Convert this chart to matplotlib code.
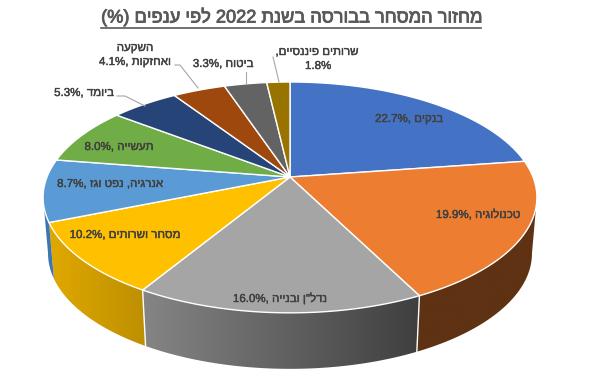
import re
import numpy as np
import matplotlib
matplotlib.use('Agg')
import matplotlib.pyplot as plt
import matplotlib.patheffects as pe
from matplotlib.colors import LinearSegmentedColormap
from matplotlib.patches import Polygon

plt.rcParams['font.family'] = ['Liberation Sans', 'DejaVu Sans']

title = 'מחזור המסחר בבורסה בשנת 2022 לפי ענפים (%)'
sectors = ['בנקים', 'טכנולוגיה', 'נדל"ן ובנייה', 'מסחר ושרותים', 'אנרגיה, נפט וגז',
           'תעשייה', 'ביומד', 'השקעה ואחזקות', 'ביטוח', 'שרותים פיננסיים']
values = [22.7, 19.9, 16.0, 10.2, 8.7, 8.0, 5.3, 4.1, 3.3, 1.8]
colors = ['#4472C4', '#ED7D31', '#A5A5A5', '#FFC000', '#5B9BD5',
          '#70AD47', '#264478', '#9E480E', '#636363', '#997300']
wall_colors = [None, ('#5E3213', '#5E3213'), ('#858585', '#3F3F3F'), ('#E0A800', '#BD8F00'),
               ('#3D76B0', '#3D76B0'), None, None, None, None, None]

# projection of the tilted disc, in pixels
APEX_X, APEX_Y = 290, 177
A, B, K = 243, 111.8, 0.177
DEPTH, SHRINK = 56, 0.98
TEXT_COLOR = '#404040'


def visual(s):
    # matplotlib has no bidi, so lay the logical string out right to left
    s = s[::-1].translate(str.maketrans('()', ')('))
    return re.sub(r'[0-9.%]*[0-9][0-9.%]*', lambda m: m.group(0)[::-1], s)


def top(deg):
    t = np.radians(deg)
    s = 1 / (1 + K * np.cos(t))
    return APEX_X + A * np.sin(t) * s, APEX_Y - B * np.cos(t) * s


def bottom(deg):
    x, y = top(deg)
    return APEX_X + (x - APEX_X) * SHRINK, y + DEPTH


def label(x, y, s):
    ax.text(x, y, visual(s), ha='center', va='center', fontsize=8.3, color=TEXT_COLOR,
            zorder=5, path_effects=[pe.withStroke(linewidth=0.3, foreground=TEXT_COLOR)])


fig = plt.figure(figsize=(5.92, 3.85), dpi=100)
ax = fig.add_axes([0, 0, 1, 1])

edges = np.concatenate([[0], np.cumsum(values)]) * 3.6
wall_from = np.degrees(np.arccos(-K))
wall_to = 360 - wall_from

# side walls
for i, wc in enumerate(wall_colors):
    if wc is None:
        continue
    th = np.linspace(max(edges[i], wall_from), min(edges[i + 1], wall_to), 60)
    xt, yt = top(th)
    xb, yb = bottom(th)
    pts = np.column_stack([np.r_[xt, xb[::-1]], np.r_[yt, yb[::-1]]])
    cmap = LinearSegmentedColormap.from_list('wall', [wc[0], wc[1]])
    im = ax.imshow(np.linspace(0, 1, 256).reshape(1, -1), cmap=cmap, aspect='auto', zorder=1,
                   extent=[pts[:, 0].min(), pts[:, 0].max(), pts[:, 1].max(), pts[:, 1].min()])
    clip = Polygon(pts, closed=True, transform=ax.transData, facecolor='none', edgecolor='none')
    ax.add_patch(clip)
    im.set_clip_path(clip)

for e in [edges[2], edges[3]]:
    ax.plot([top(e)[0], bottom(e)[0]], [top(e)[1], bottom(e)[1]], color='white', lw=1, zorder=2)

# top face
for i, col in enumerate(colors):
    th = np.linspace(edges[i], edges[i + 1], 80)
    xt, yt = top(th)
    pts = np.column_stack([np.r_[APEX_X, xt], np.r_[APEX_Y, yt]])
    ax.add_patch(Polygon(pts, closed=True, facecolor=col, edgecolor='white', lw=1, zorder=3))

ax.set_xlim(0, 592)
ax.set_ylim(385, 0)
ax.axis('off')

# title, underlined by hand
t = ax.text(291, 17, visual(title), ha='center', va='center', fontsize=13.1, color='#595959',
            path_effects=[pe.withStroke(linewidth=0.6, foreground='#595959')])
fig.canvas.draw()
bb = t.get_window_extent().transformed(ax.transData.inverted())
ax.plot([bb.x0, bb.x1], [28, 28], color='#595959', lw=1.2)

# labels
label(409, 119, sectors[0] + ' ,%.1f%%' % values[0])
label(478, 215, sectors[1] + ' ,%.1f%%' % values[1])
label(280, 299, sectors[2] + ' ,%.1f%%' % values[2])
label(125, 235, sectors[3] + ' ,%.1f%%' % values[3])
label(110, 184, sectors[4] + ' ,%.1f%%' % values[4])
label(119, 147, sectors[5] + ' ,%.1f%%' % values[5])
label(84, 93, sectors[6] + ' ,%.1f%%' % values[6])
label(135, 48, 'השקעה')
label(135, 62, 'ואחזקות ,%.1f%%' % values[7])
label(223, 64, sectors[8] + ' ,%.1f%%' % values[8])
label(317, 52, sectors[9] + ',')
label(318, 66, '%.1f%%' % values[9])

# leader lines
leader = dict(color='#A6A6A6', lw=0.8, zorder=4)
ax.plot([117, 125, 145], [96, 96, 106], **leader)
ax.plot([175, 180, 198], [65, 65, 88], **leader)
ax.plot([246, 246], [72, 83], **leader)
ax.plot([273, 279], [57, 82], **leader)

fig.savefig('out.png', dpi=100, facecolor='white')
